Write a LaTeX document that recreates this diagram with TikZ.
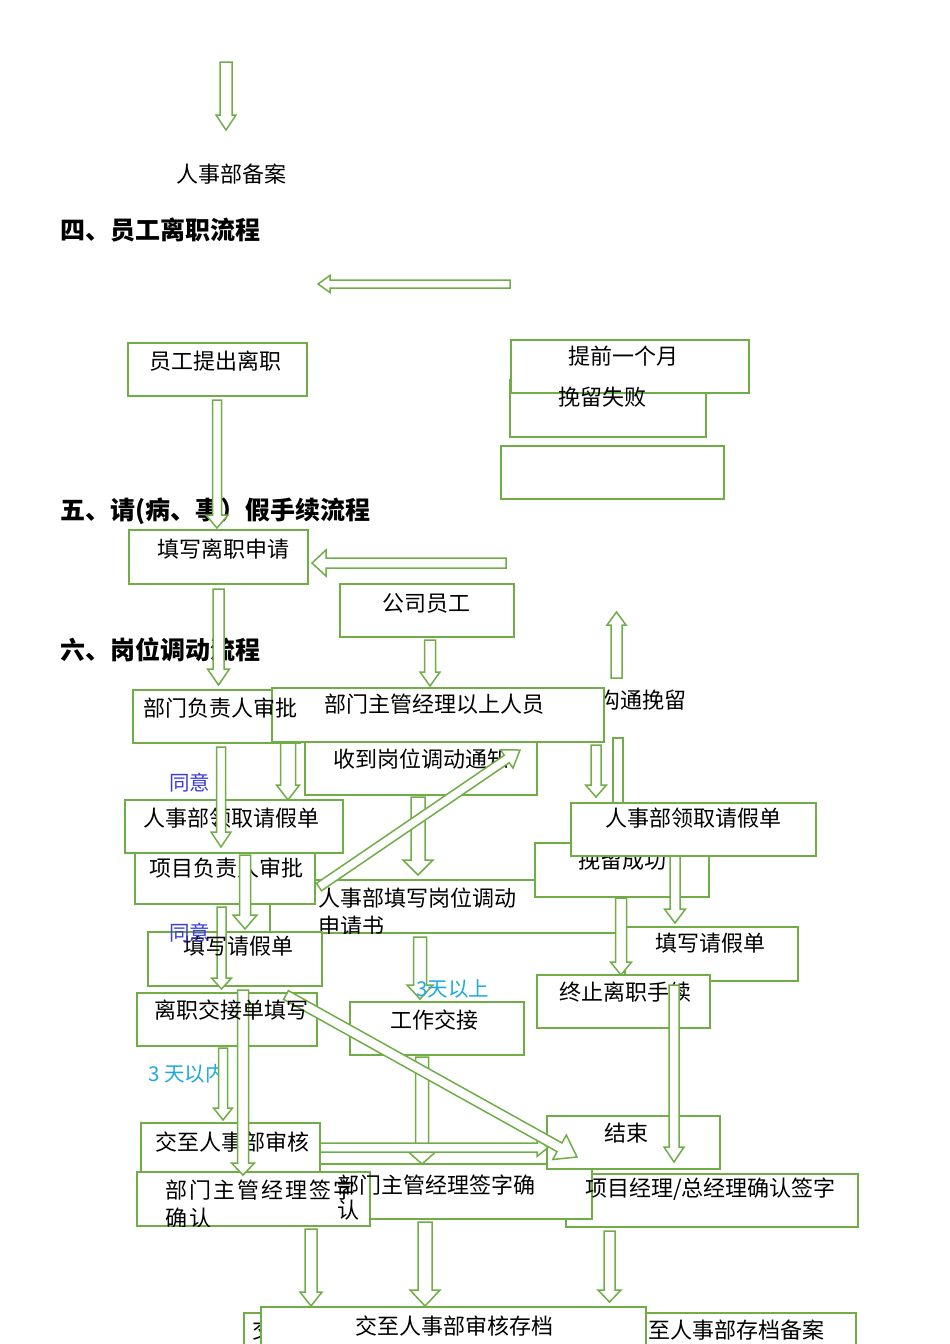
\documentclass[tikz,border=0pt]{standalone}
\usepackage{fontspec}
\newfontfamily\cjk{Noto Sans CJK SC}
\newfontfamily\cjkls[LetterSpace=9]{Noto Sans CJK SC}
\usetikzlibrary{calc}
\definecolor{gline}{RGB}{112,173,71}
\definecolor{tblue}{RGB}{60,60,215}
\definecolor{tcyan}{RGB}{30,170,222}
\tikzset{
 boxst/.style={draw=gline, line width=1.6pt, fill=white, inner sep=0pt, outer sep=0pt},
 arrst/.style={draw=gline, line width=1.5pt, fill=white, line join=miter},
 txt/.style={anchor=west, inner sep=0pt, yshift=-5pt, text height=0.88em, text depth=0.12em, font=\cjk\fontsize{22}{24}\selectfont},
 headtxt/.style={txt, yshift=-1.5pt, font=\cjk\bfseries\fontsize{25}{28}\selectfont},
 notetxt/.style={txt, font=\cjk\fontsize{20.5}{24}\selectfont},
 widetxt/.style={txt, font=\cjkls\fontsize{22}{24}\selectfont},
}
\newcommand{\bx}[5]{\node[boxst, minimum width={#4-#2}, minimum height={#5-#3}] (#1) at ({(#2+#4)/2},{(#3+#5)/2}) {};}
\newcommand{\barrow}[5]{%
 \coordinate (bs) at #1; \coordinate (be) at #2;
 \coordinate (bn) at ($(be)!#5!(bs)$);
 \filldraw[arrst] ($(bs)!#3!90:(be)$) -- ($(bn)!#3!90:(be)$) -- ($(bn)!#4!90:(be)$) -- (be) -- ($(bn)!#4!-90:(be)$) -- ($(bn)!#3!-90:(be)$) -- ($(bs)!#3!-90:(be)$) -- cycle;}
\begin{document}
\begin{tikzpicture}[x=1pt,y=-1pt]
\clip (0,0) rectangle (950,1344);
\fill[white] (0,0) rectangle (950,1344);
% ---- top
\barrow{(226,62)}{(226,130)}{6pt}{10pt}{15pt}
\node[txt] (beian) at (176,174) {人事部备案};
\node[headtxt] (h4) at (60,229) {四、员工离职流程};
\barrow{(510,284)}{(318,284)}{4pt}{8.5pt}{12pt}
\bx{tichu}{128}{343}{307}{396}
\node[txt] at (149,361) {员工提出离职};
\bx{shibai}{510}{380}{706}{437}
\bx{tiqian}{511}{340}{749}{393}
\node[txt] at (568,356) {提前一个月};
\node[txt] at (558,397) {挽留失败};
\bx{empty}{501}{446}{724}{499}
\node[headtxt] (h5) at (60,509) {五、请(病、事）假手续流程};
\barrow{(217,400)}{(217,528)}{4.5pt}{11pt}{13pt}
\bx{lizhisq}{129}{530}{308}{584}
\node[txt] at (157,549) {填写离职申请};
\barrow{(506,563)}{(312,563)}{5pt}{13pt}{14pt}
\bx{gongsi}{340}{584}{514}{637}
\node[txt] at (382,603) {公司员工};
\node[headtxt] (h6) at (60,649) {六、岗位调动流程};
\barrow{(218.5,589)}{(218.5,685)}{5.5pt}{11pt}{16pt}
\barrow{(430,640)}{(430,686)}{5.5pt}{10pt}{14pt}
\barrow{(616.5,678)}{(616.5,612)}{5.5pt}{9.5pt}{13pt}
\node[txt] (goutong) at (598,700) {沟通挽留};
% ---- upper middle
\bx{bmfz}{133}{690}{300}{743}
\bx{shoudao}{305}{742}{537}{795}
\node[txt] at (333,759) {收到岗位调动通知};
\bx{bmzg}{272}{688}{604}{742}
\node[txt] at (324,704) {部门主管经理以上人员};
\node[txt] at (143,708) {部门负责人审批};
\barrow{(288,743)}{(288,800)}{7.5pt}{11.5pt}{15pt}
\barrow{(596,745)}{(596,797)}{5pt}{10.5pt}{12pt}
\filldraw[arrst] (613,738) rectangle (623,803);
% ---- middle
\bx{rsbtx}{270}{880}{620}{933}
\begin{scope}
\clip (270,880) rectangle (620,933);
\node[txt] at (318,898) {人事部填写岗位调动};
\node[txt] at (318,926) {申请书};
\end{scope}
\bx{wlcg}{535}{843}{709}{897}
\node[txt] at (578,860) {挽留成功};
\bx{rslqR}{571}{803}{816}{856}
\node[txt] at (605,818) {人事部领取请假单};
\bx{rslqL}{125}{800}{343}{853}
\node[txt] at (143,818) {人事部领取请假单};
\bx{xmfz}{135}{853}{315}{904}
\node[txt] at (149,868) {项目负责人审批};
\node[notetxt, text=tblue] at (169,782) {同意};
\barrow{(221,747)}{(221,847)}{4.5pt}{10pt}{15pt}
\barrow{(245,855)}{(245,929)}{5.5pt}{12pt}{14pt}
\barrow{(418,797)}{(418,875)}{7pt}{15pt}{15pt}
\barrow{(675,856)}{(675,923)}{5pt}{10.5pt}{14pt}
\bx{txqjR}{625}{927}{798}{981}
\node[txt] at (655,943) {填写请假单};
\barrow{(621,898)}{(621,975)}{5.5pt}{10.5pt}{13pt}
\bx{zhongzhi}{537}{975}{710}{1028}
\node[txt] at (559,992) {终止离职手续};
\bx{txqjL}{148}{932}{322}{986}
\barrow{(221.5,907)}{(221.5,989)}{4.5pt}{10pt}{11pt}
\node[txt] at (183,946) {填写请假单};
\node[notetxt, text=tblue] at (169,932) {同意};
\barrow{(420,937)}{(420,999)}{6.5pt}{13pt}{14pt}
\node[notetxt, text=tcyan] at (416,988) {3天以上};
\bx{gzjj}{350}{1002}{524}{1055}
\node[txt] at (390,1020) {工作交接};
\bx{jjd}{137}{993}{317}{1046}
\node[notetxt, text=tcyan] at (148,1073) {3 天以内};
\barrow{(223,1048)}{(223,1120)}{4.5pt}{9.5pt}{12pt}
\barrow{(422,1057)}{(422,1164)}{6.5pt}{13.5pt}{12pt}
% ---- lower middle
\bx{xmjl}{566}{1174}{858}{1227}
\bx{bmzgqzM}{320}{1164}{592}{1219}
\bx{jieshu}{547}{1116}{720}{1169}
\node[txt] at (604,1133) {结束};
\node[txt] at (585,1188) {项目经理/总经理确认签字};
\bx{jzrs}{141}{1123}{320}{1172}
\node[txt] at (155,1142) {交至人事部审核};
\bx{bmzgqzL}{137}{1172}{370}{1226}
\begin{scope}
\clip (137,1172) rectangle (370,1226);
\node[widetxt] at (165,1190) {部门主管经理签字};
\node[widetxt] at (165,1218) {确认};
\end{scope}
\node[txt] at (337,1185) {部门主管经理签字确};
\node[txt] at (337,1210) {认};
\barrow{(320,1147.5)}{(548,1147.5)}{4.5pt}{9pt}{11pt}
\barrow{(674,985)}{(674,1162)}{5pt}{10pt}{15pt}
\barrow{(243,990)}{(243,1175)}{5.5pt}{11.5pt}{12pt}
\barrow{(319,887)}{(520,750)}{4.5pt}{11pt}{16pt}
\barrow{(286,995)}{(577,1157)}{5pt}{14pt}{20pt}
\node[txt] at (154,1010) {离职交接单填写};
% ---- bottom
\barrow{(311,1229)}{(311,1306)}{6pt}{11pt}{14pt}
\barrow{(425,1222)}{(425,1306)}{7pt}{15pt}{16pt}
\barrow{(609.5,1231)}{(609.5,1302)}{5.5pt}{11.5pt}{12pt}
\bx{hidL}{244}{1313}{420}{1370}
\begin{scope}
\clip (244,1313) rectangle (261,1344);
\node[txt] at (252,1330) {交};
\end{scope}
\bx{cundangR}{628}{1313}{856}{1370}
\node[txt] at (626,1330) {交至人事部存档备案};
\bx{cundangM}{261}{1307}{646}{1370}
\node[txt] at (355,1326) {交至人事部审核存档};
\end{tikzpicture}
\end{document}
